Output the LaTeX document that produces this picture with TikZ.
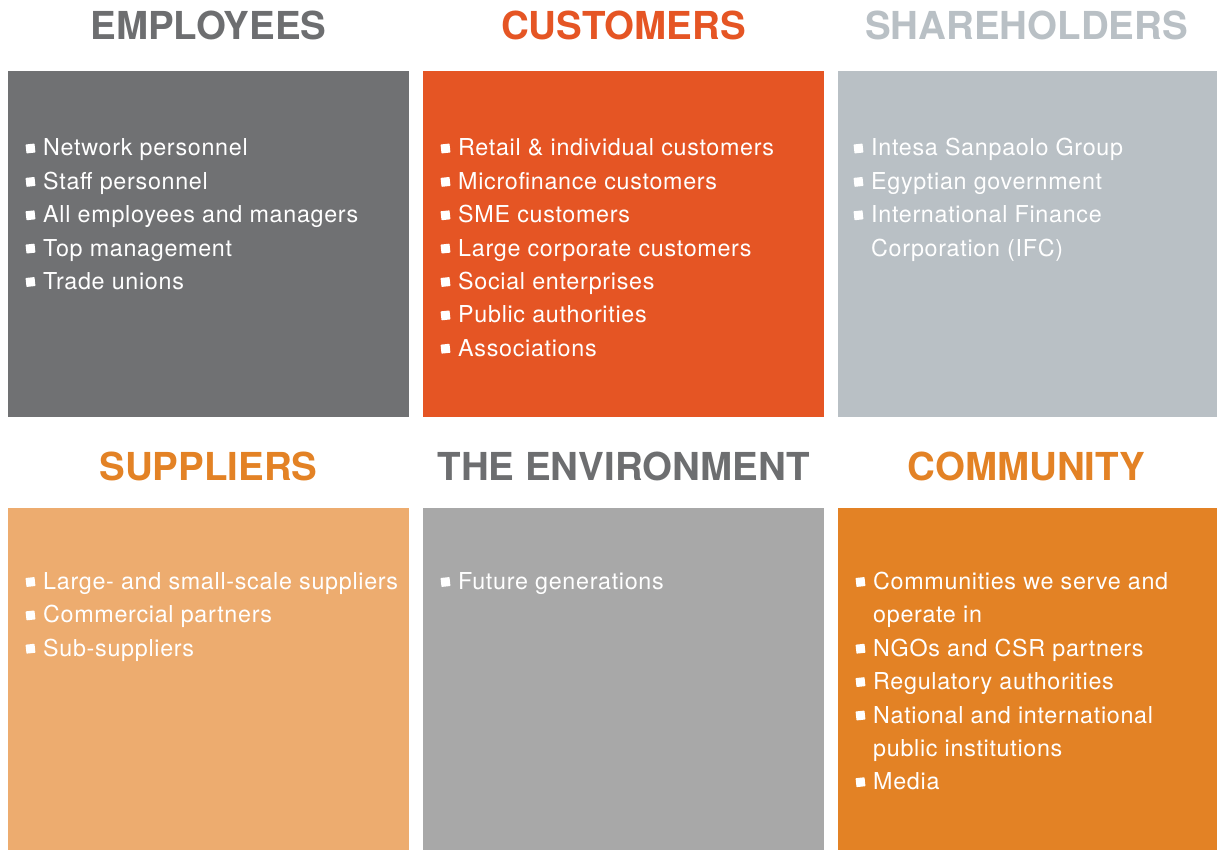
\documentclass[tikz,border=0pt]{standalone}
\usepackage{fontspec}
\setmainfont{TeX Gyre Heros}
\newfontfamily\bodyfont[LetterSpace=3]{TeX Gyre Heros}
\definecolor{cEmp}{HTML}{707173}
\definecolor{cCus}{HTML}{E55524}
\definecolor{cSha}{HTML}{B9C0C5}
\definecolor{cSup}{HTML}{EDAC6F}
\definecolor{cEnv}{HTML}{A8A8A8}
\definecolor{cCom}{HTML}{E38225}
\definecolor{cHead}{HTML}{6D6E70}
\tikzset{
  panel/.style={anchor=north west, inner sep=0pt, outer sep=0pt, draw=none, minimum height=346pt},
  head/.style={anchor=base, inner sep=0pt, font=\fontsize{38.5}{40}\selectfont\bfseries},
  itemtext/.style={anchor=base west, inner sep=0pt, text=white, font=\fontsize{23.3}{26}\selectfont\bodyfont},
  bul/.style={fill=white, inner sep=0pt, minimum size=9pt, rotate=6, rounded corners=0.6pt}
}
\newcommand{\entry}[5]{% name, text x, baseline y, bullet?, text
  \node[itemtext] (#1) at (#2,#3) {#5};
  \ifx#4y\node[bul] (#1b) at ([xshift=-12.5pt,yshift=7.5pt]#1.base west) {};\fi
}
\begin{document}
\begin{tikzpicture}[x=1pt,y=-1pt]
\useasboundingbox (0,0) rectangle (1217,850);
\fill[white] (0,0) rectangle (1217,850);
% panels
\node[panel, fill=cEmp, minimum width=401pt] (emp) at (8,71) {};
\node[panel, fill=cCus, minimum width=401pt] (cus) at (423,71) {};
\node[panel, fill=cSha, minimum width=379pt] (sha) at (838,71) {};
\node[panel, fill=cSup, minimum width=401pt, minimum height=342pt] (sup) at (8,508) {};
\node[panel, fill=cEnv, minimum width=401pt, minimum height=342pt] (env) at (423,508) {};
\node[panel, fill=cCom, minimum width=379pt, minimum height=342pt] (com) at (838,508) {};
% headings
\node[head, text=cHead] (hemp) at (208.5,39.3) {EMPLOYEES};
\node[head, text=cCus] (hcus) at (623.5,39.3) {CUSTOMERS};
\node[head, text=cSha] (hsha) at (1026.5,39.3) {SHAREHOLDERS};
\node[head, text=cCom] (hsup) at (208.5,480.5) {SUPPLIERS};
\node[head, text=cHead] (henv) at (623.5,480.5) {THE ENVIRONMENT};
\node[head, text=cCom] (hcom) at (1026.5,480.5) {COMMUNITY};
% employees
\entry{e1}{43}{156}{y}{Network personnel}
\entry{e2}{43}{189.4}{y}{Staff personnel}
\entry{e3}{43}{222.8}{y}{All employees and managers}
\entry{e4}{43}{256.1}{y}{Top management}
\entry{e5}{43}{289.5}{y}{Trade unions}
% customers
\entry{c1}{458}{156}{y}{Retail \& individual customers}
\entry{c2}{458}{189.4}{y}{Microfinance customers}
\entry{c3}{458}{222.8}{y}{SME customers}
\entry{c4}{458}{256.1}{y}{Large corporate customers}
\entry{c5}{458}{289.5}{y}{Social enterprises}
\entry{c6}{458}{322.9}{y}{Public authorities}
\entry{c7}{458}{356.2}{y}{Associations}
% shareholders
\entry{s1}{871}{156}{y}{Intesa Sanpaolo Group}
\entry{s2}{871}{189.4}{y}{Egyptian government}
\entry{s3}{871}{222.8}{y}{International Finance}
\entry{s4}{871}{256.1}{n}{Corporation (IFC)}
% suppliers
\entry{p1}{43}{589.5}{y}{Large- and small-scale suppliers}
\entry{p2}{43}{622.9}{y}{Commercial partners}
\entry{p3}{43}{656.2}{y}{Sub-suppliers}
% environment
\entry{v1}{458}{589.5}{y}{Future generations}
% community
\entry{m1}{873}{589.5}{y}{Communities we serve and}
\entry{m2}{873}{622.9}{n}{operate in}
\entry{m3}{873}{656.2}{y}{NGOs and CSR partners}
\entry{m4}{873}{689.6}{y}{Regulatory authorities}
\entry{m5}{873}{723}{y}{National and international}
\entry{m6}{873}{756.3}{n}{public institutions}
\entry{m7}{873}{789.7}{y}{Media}
\end{tikzpicture}
\end{document}
